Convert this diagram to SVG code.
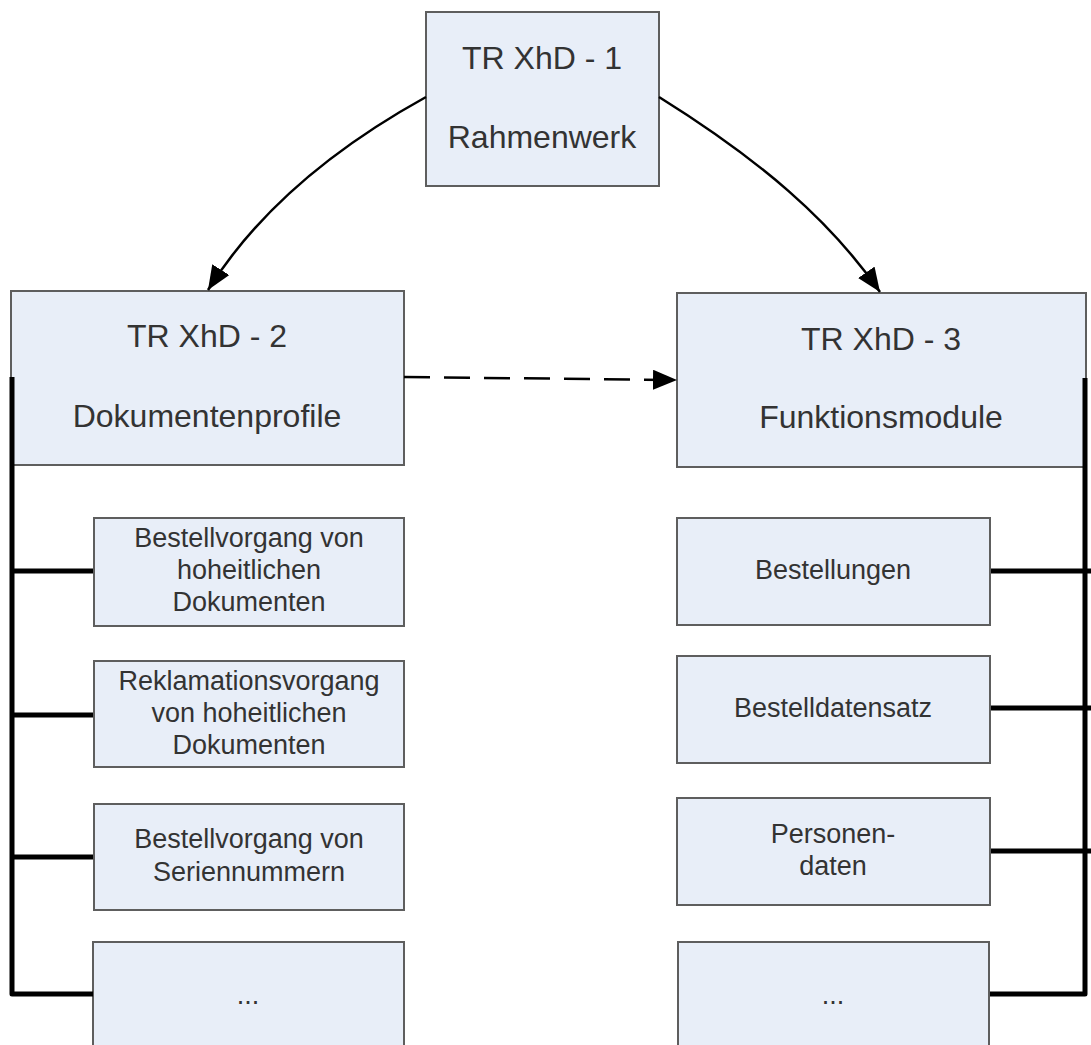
<svg xmlns="http://www.w3.org/2000/svg" width="1091" height="1045" viewBox="0 0 1091 1045">
<style>
.box{fill:#e8eef8;stroke:#5e5e5e;stroke-width:2}
.big{font-family:"Liberation Sans",Arial,sans-serif;font-size:32px;fill:#333;text-anchor:middle}
.sm{font-family:"Liberation Sans",Arial,sans-serif;font-size:27px;fill:#333;text-anchor:middle}
.bar{fill:none;stroke:#000;stroke-width:5;stroke-linejoin:round;stroke-linecap:butt}
.arr{fill:none;stroke:#000;stroke-width:2.5}
</style>
<defs>
<marker id="ah2" viewBox="0 0 24 20" refX="24" refY="10" markerWidth="24" markerHeight="20" markerUnits="userSpaceOnUse" orient="auto">
<path d="M0,0 L24,10 L0,20 z" fill="#000"/>
</marker>
</defs>
<g id="n1"><rect class="box" x="426" y="12" width="233" height="174"/><text class="big" x="542" y="69">TR XhD - 1</text><text class="big" x="542" y="148">Rahmenwerk</text></g>
<g id="n2"><rect class="box" x="11" y="291" width="393" height="174"/><text class="big" x="207" y="347">TR XhD - 2</text><text class="big" x="207" y="427">Dokumentenprofile</text></g>
<g id="n3"><rect class="box" x="677" y="293" width="409" height="174"/><text class="big" x="881" y="350">TR XhD - 3</text><text class="big" x="881" y="428">Funktionsmodule</text></g>
<g id="l1"><rect class="box" x="94" y="518" width="310" height="108"/><text class="sm" x="249" y="547">Bestellvorgang von</text><text class="sm" x="249" y="579">hoheitlichen</text><text class="sm" x="249" y="611">Dokumenten</text></g>
<g id="l2"><rect class="box" x="94" y="661" width="310" height="106"/><text class="sm" x="249" y="690">Reklamationsvorgang</text><text class="sm" x="249" y="722">von hoheitlichen</text><text class="sm" x="249" y="754">Dokumenten</text></g>
<g id="l3"><rect class="box" x="94" y="804" width="310" height="106"/><text class="sm" x="249" y="848">Bestellvorgang von</text><text class="sm" x="249" y="881">Seriennummern</text></g>
<g id="l4"><rect class="box" x="93" y="942" width="311" height="120"/><text class="sm" x="248" y="1004">...</text></g>
<g id="r1"><rect class="box" x="677" y="518" width="313" height="107"/><text class="sm" x="833" y="579">Bestellungen</text></g>
<g id="r2"><rect class="box" x="677" y="656" width="313" height="107"/><text class="sm" x="833" y="717">Bestelldatensatz</text></g>
<g id="r3"><rect class="box" x="677" y="798" width="313" height="107"/><text class="sm" x="833" y="843">Personen-</text><text class="sm" x="833" y="875">daten</text></g>
<g id="r4"><rect class="box" x="678" y="942" width="311" height="120"/><text class="sm" x="833" y="1004">...</text></g>
<g id="connectors">
<path class="arr" d="M426,97 C 330,150 255,215 208,290" marker-end="url(#ah2)"/>
<path class="arr" d="M659,97 C 760,160 830,220 880,292" marker-end="url(#ah2)"/>
<path class="arr" d="M404,377 L677,380" stroke-width="3" stroke-dasharray="26,14" marker-end="url(#ah2)"/>
<path class="bar" d="M12,377 L12,994 L93,994"/>
<line class="bar" x1="12" y1="571" x2="93" y2="571"/>
<line class="bar" x1="12" y1="715" x2="93" y2="715"/>
<line class="bar" x1="12" y1="857" x2="93" y2="857"/>
<path class="bar" d="M1085,378 L1085,994 L990,994"/>
<line class="bar" x1="991" y1="571" x2="1091" y2="571"/>
<line class="bar" x1="991" y1="708" x2="1091" y2="708"/>
<line class="bar" x1="991" y1="851" x2="1091" y2="851"/>
</g>
</svg>
